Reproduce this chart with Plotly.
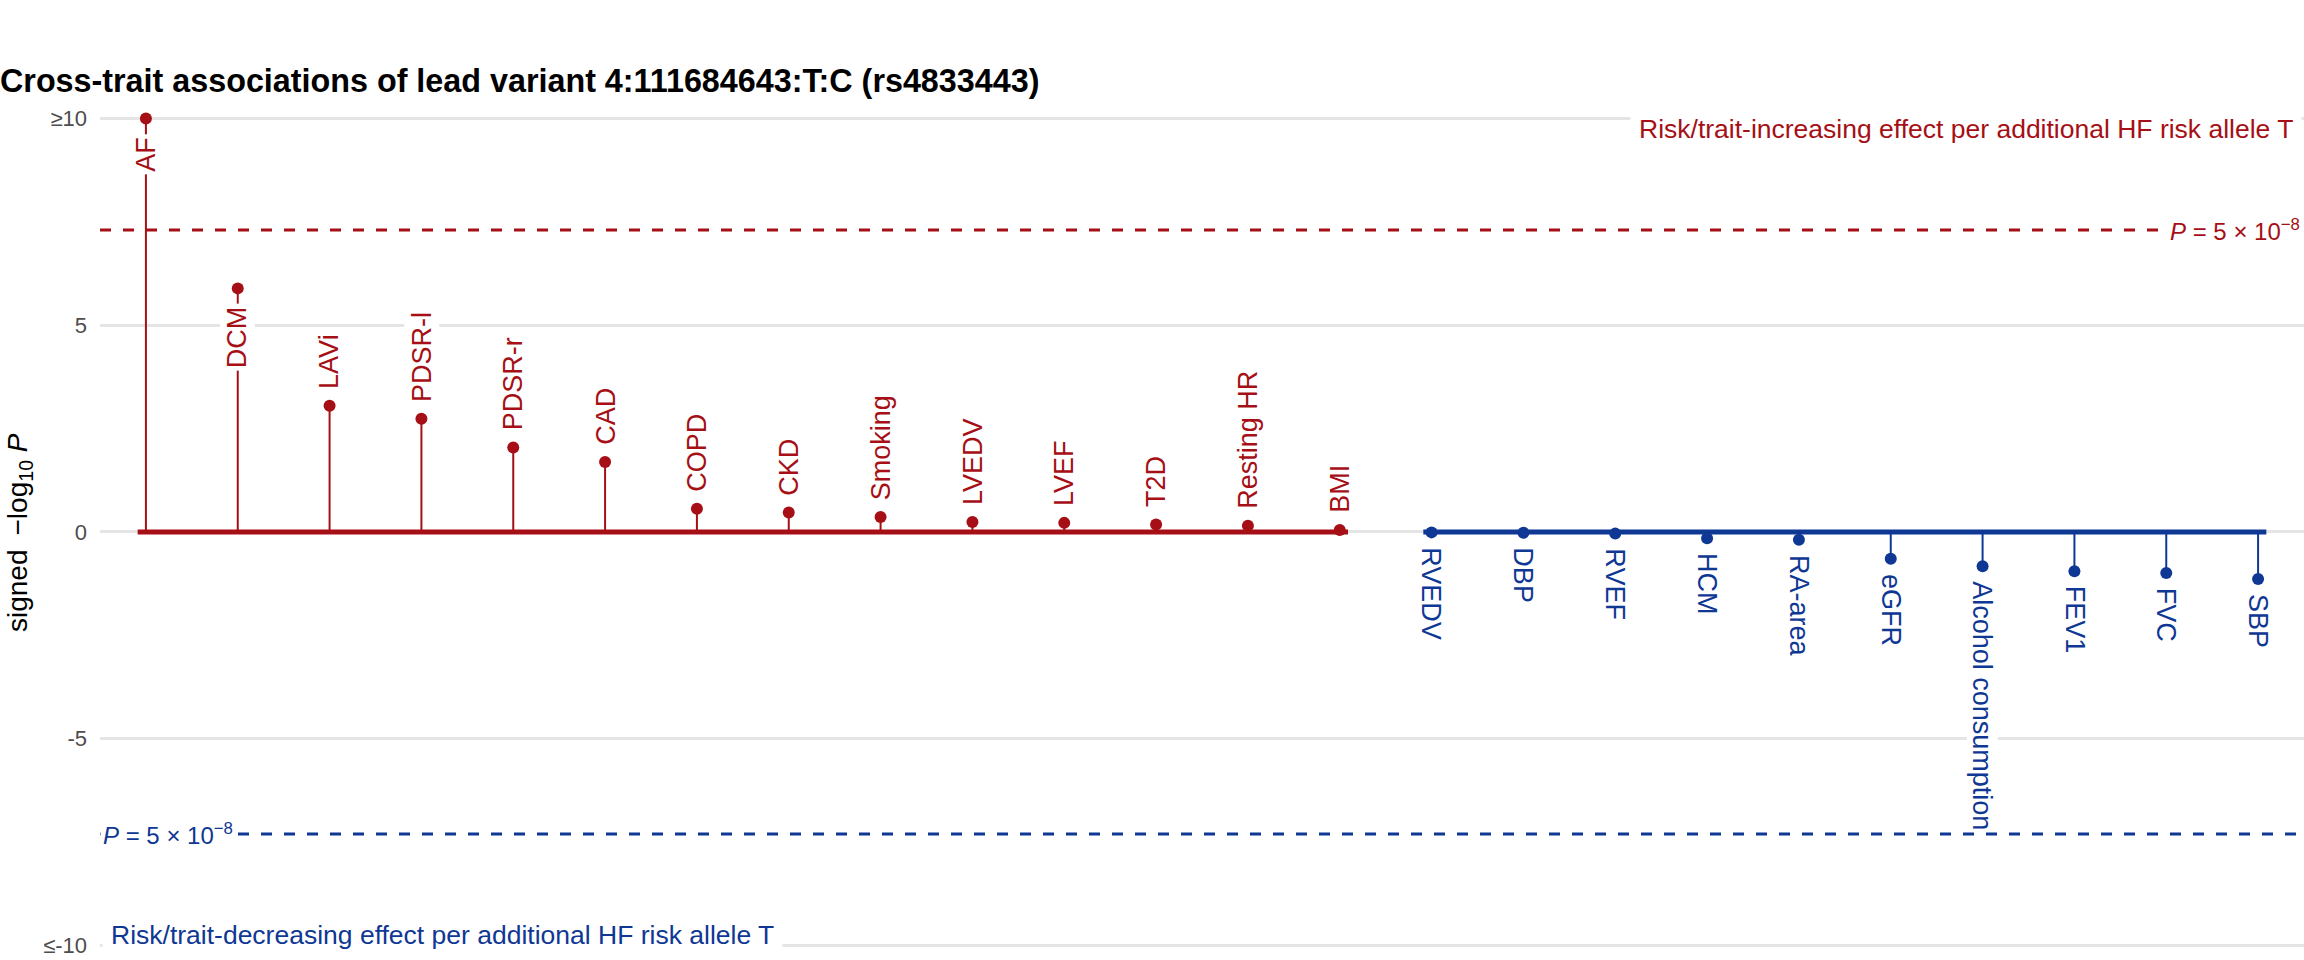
import math
import plotly.graph_objects as go

# ---------------- data ----------------
traits_up = ["AF", "DCM", "LAVi", "PDSR-l", "PDSR-r", "CAD", "COPD", "CKD",
             "Smoking", "LVEDV", "LVEF", "T2D", "Resting HR", "BMI"]
logp_up = [10.0, 5.89, 3.05, 2.74, 2.04, 1.69, 0.56, 0.47, 0.36, 0.24, 0.22,
           0.18, 0.15, 0.05]          # AF capped at 10 (>=10)

traits_down = ["RVEDV", "DBP", "RVEF", "HCM", "RA-area", "eGFR",
               "Alcohol consumption", "FEV1", "FVC", "SBP"]
logp_down = [-0.01, -0.02, -0.04, -0.15, -0.19, -0.65, -0.83, -0.95, -0.99, -1.14]

labels_below_point = ["AF", "DCM"]

ytick_vals = [-10, -5, 0, 5, 10]
ytick_text = ["≤-10", "-5", "0", "5", "≥10"]

p_threshold = 5e-8

title_text = "Cross-trait associations of lead variant 4:111684643:T:C (rs4833443)"
up_text = "Risk/trait-increasing effect per additional HF risk allele T"
down_text = "Risk/trait-decreasing effect per additional HF risk allele T"

# ---------------- style ----------------
RED = "#A50F15"
BLUE = "#0F3794"
GRID = "#E5E5E5"
FONT = "Liberation Sans, Arial, Helvetica, sans-serif"

thr = -math.log10(p_threshold)

x_up = list(range(len(traits_up)))
x_down = [len(traits_up) + i for i in range(len(traits_down))]

fig = go.Figure()


def add_group(xs, ys, color):
    # thick baseline
    fig.add_trace(go.Scatter(x=[xs[0] - 0.09, xs[-1] + 0.09], y=[0, 0], mode="lines",
                             line=dict(color=color, width=5), hoverinfo="skip"))
    # stems
    sx, sy = [], []
    for x, y in zip(xs, ys):
        sx += [x, x, None]
        sy += [0, y, None]
    fig.add_trace(go.Scatter(x=sx, y=sy, mode="lines",
                             line=dict(color=color, width=2), hoverinfo="skip"))
    # points
    fig.add_trace(go.Scatter(x=xs, y=ys, mode="markers",
                             marker=dict(color=color, size=12)))


add_group(x_up, logp_up, RED)
add_group(x_down, logp_down, BLUE)

annotations = []
for x, y, t in zip(x_up, logp_up, traits_up):
    below = t in labels_below_point
    annotations.append(dict(
        x=x, y=y, xref="x", yref="y", text=t, showarrow=False, textangle=-90,
        xanchor="center", yanchor="top" if below else "bottom",
        yshift=-15 if below else 14, bgcolor="white", borderpad=2,
        font=dict(family=FONT, size=27, color=RED)))
for x, y, t in zip(x_down, logp_down, traits_down):
    annotations.append(dict(
        x=x, y=y, xref="x", yref="y", text=t, showarrow=False, textangle=90,
        xanchor="center", yanchor="top", yshift=-14, bgcolor="white", borderpad=0,
        font=dict(family=FONT, size=27, color=BLUE)))

p_label = "<i>P</i> = 5 × 10<sup>−8</sup>"
annotations.append(dict(x=1, xref="paper", y=thr, yref="y", text=p_label, showarrow=False,
                        xanchor="right", yanchor="middle", bgcolor="white", borderpad=3,
                        font=dict(family=FONT, size=24, color=RED)))
annotations.append(dict(x=0, xref="paper", y=-thr, yref="y", text=p_label, showarrow=False,
                        xanchor="left", yanchor="middle", bgcolor="white", borderpad=2,
                        font=dict(family=FONT, size=24, color=BLUE)))
annotations.append(dict(x=1, xref="paper", y=9.75, yref="y", text=up_text, showarrow=False,
                        xanchor="right", yanchor="middle", xshift=-2, bgcolor="white",
                        borderpad=8, font=dict(family=FONT, size=26.5, color=RED)))
annotations.append(dict(x=0, xref="paper", y=-9.75, yref="y", text=down_text, showarrow=False,
                        xanchor="left", yanchor="middle", xshift=2, bgcolor="white",
                        borderpad=8, font=dict(family=FONT, size=26.5, color=BLUE)))
# y-axis title
annotations.append(dict(x=0, xref="paper", y=0.5, yref="paper",
                        text="signed\u2002−log<sub>10</sub> <i>P</i>", showarrow=False,
                        textangle=-90, xanchor="center", yanchor="middle", xshift=-81,
                        font=dict(family=FONT, size=28, color="black")))

shapes = [
    dict(type="line", xref="paper", x0=0, x1=1, yref="y", y0=thr, y1=thr, layer="below",
         line=dict(color=RED, width=3, dash="11px,12px")),
    dict(type="line", xref="paper", x0=0, x1=1, yref="y", y0=-thr, y1=-thr, layer="below",
         line=dict(color=BLUE, width=3, dash="11px,12px")),
]

fig.update_layout(
    width=2304, height=960,
    margin=dict(l=100, r=0, t=106, b=0, autoexpand=False),
    paper_bgcolor="white", plot_bgcolor="white",
    showlegend=False,
    font=dict(family=FONT),
    title=dict(text="<b>" + title_text + "</b>", x=0.0, xref="container", xanchor="left",
               y=1 - 81 / 960, yref="container", yanchor="middle",
               font=dict(family=FONT, size=32.3, color="black")),
    xaxis=dict(range=[-0.5, 23.5], showgrid=False, zeroline=False, showline=False,
               showticklabels=False, ticks=""),
    yaxis=dict(range=[-10.35, 10.3], tickvals=ytick_vals, ticktext=ytick_text,
               showgrid=True, gridcolor=GRID, gridwidth=2.5, zeroline=False,
               showline=False, ticks="", ticklabelstandoff=12,
               tickfont=dict(family=FONT, size=22, color="#4D4D4D")),
    annotations=annotations,
    shapes=shapes,
)

fig.write_html("out.html", config={"displayModeBar": False},
               post_script="document.body.style.margin='0';document.body.style.padding='0';")
